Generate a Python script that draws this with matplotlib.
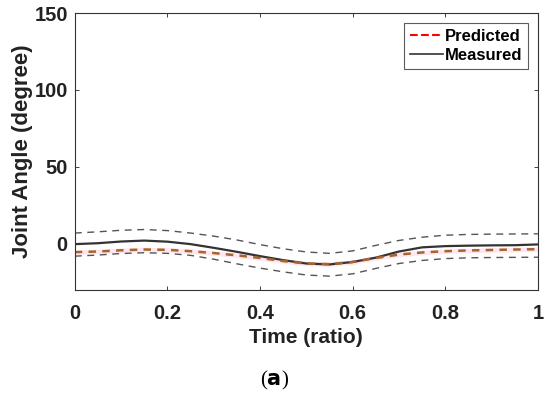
import numpy as np
import matplotlib.pyplot as plt
from matplotlib.lines import Line2D

plt.rcParams['font.family'] = 'Liberation Sans'

# Time ratio samples
t = np.linspace(0, 1, 21)

# Mean joint angles (degree)
measured = [-0.2, 0.4, 1.5, 2.1, 1.4, -0.2, -2.6, -5.2, -8.0, -10.6, -12.8,
            -13.4, -11.8, -9.0, -5.0, -2.3, -1.5, -1.2, -1.0, -0.9, -0.4]
predicted = [-5.4, -5.0, -4.2, -3.7, -3.9, -4.8, -6.0, -7.5, -9.2, -11.2, -12.8,
             -13.2, -11.8, -9.2, -7.0, -5.6, -4.8, -4.3, -4.0, -3.7, -3.5]
# Measured +/- SD bounds
upper = [7.0, 7.8, 8.8, 9.3, 8.6, 7.0, 5.0, 2.5, -0.5, -3.2, -5.3,
         -6.2, -4.6, -1.0, 2.2, 4.3, 5.6, 6.1, 6.3, 6.4, 6.5]
lower = [-8.0, -7.3, -6.3, -5.8, -6.2, -7.5, -10.0, -13.0, -15.8, -18.2, -20.3,
         -21.0, -19.5, -16.0, -12.8, -10.8, -9.6, -9.1, -8.9, -8.8, -8.7]

fig = plt.figure(figsize=(5.5, 3.94), dpi=100)
ax = fig.add_axes([0.136, 0.264, 0.842, 0.703])

pred = np.array(predicted)
ax.fill_between(t, pred - 1.5, pred + 1.5, color='#ffd6e6', alpha=0.6, lw=0)
ax.plot(t, upper, color='#555555', ls=(0, (5, 4)), lw=1)
ax.plot(t, lower, color='#555555', ls=(0, (5, 4)), lw=1)
ax.plot(t, measured, color='#333333', lw=1.6)
ax.plot(t, predicted, color='#a8642a', ls=(0, (3, 2.5)), lw=1.8)

ax.set_xlim(0, 1)
ax.set_ylim(-30, 150)
ax.set_xticks([0, 0.2, 0.4, 0.6, 0.8, 1])
ax.set_xticklabels(['0', '0.2', '0.4', '0.6', '0.8', '1'])
ax.set_yticks([0, 50, 100, 150])
ax.tick_params(direction='in', length=3, width=0.6, top=True, right=True,
               labelsize=14.5, colors='#222222')
ax.tick_params(axis='x', pad=10)
ax.tick_params(axis='y', pad=5)
for lab in ax.get_xticklabels() + ax.get_yticklabels():
    lab.set_fontweight('bold')
for s in ax.spines.values():
    s.set_linewidth(0.8)
    s.set_color('#333333')

ax.set_xlabel('Time (ratio)', fontsize=15, fontweight='bold', labelpad=4, color='#222222')
ax.set_ylabel('Joint Angle (degree)', fontsize=16, fontweight='bold', labelpad=1, color='#222222')

handles = [Line2D([], [], color='red', ls='--', lw=1.5),
           Line2D([], [], color='#333333', lw=1.2)]
leg = ax.legend(handles, ['Predicted', 'Measured'], loc='upper right',
                prop={'weight': 'bold', 'size': 12}, fancybox=False,
                edgecolor='#333333', handlelength=2.0, handletextpad=0.1,
                borderaxespad=0.6, labelspacing=0.25, borderpad=0.35)
leg.get_frame().set_linewidth(0.8)

fig.text(0.5, 0.035, r'($\mathbf{a}$)', fontsize=15, ha='center', va='center',
         family='Liberation Serif')

fig.savefig('out.png', dpi=100)
